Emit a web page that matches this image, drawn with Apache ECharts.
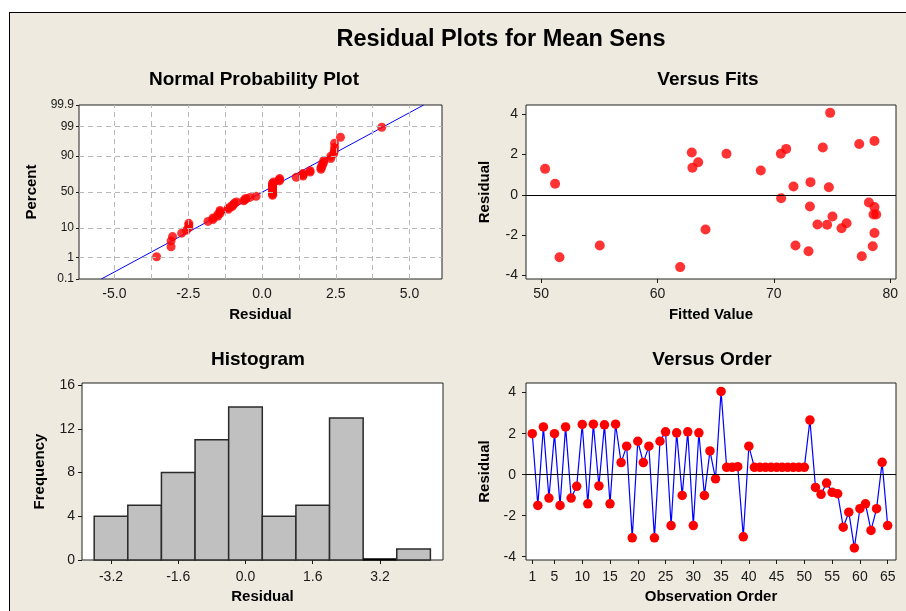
<!DOCTYPE html>
<html><head><meta charset="utf-8">
<script src="https://cdn.jsdelivr.net/npm/echarts@6/dist/echarts.min.js"></script>
<style>
html,body{margin:0;padding:0;background:#fff;}
#wrap{position:relative;width:906px;height:611px;overflow:hidden;background:#fff;}
#frame{position:absolute;left:9px;top:12px;width:1000px;height:1000px;background:#EEEAE0;border-left:1px solid #000;border-top:1px solid #000;}
#chart{position:absolute;left:0;top:0;width:906px;height:611px;}
</style></head><body>
<div id="wrap"><div id="frame"></div><div id="chart"></div></div>
<script>
// ---- data ----
const residualsByOrder = [
  2.00, -1.50, 2.33, -1.14, 2.00, -1.50, 2.33, -1.14, -0.57, 2.45,
  -1.42, 2.46, -0.55, 2.43, -1.42, 2.46, 0.59, 1.39, -3.08, 1.63,
  0.59, 1.39, -3.08, 1.63, 2.09, -2.48, 2.04, -1.01, 2.09, -2.48,
  2.04, -1.01, 1.16, -0.20, 4.06, 0.36, 0.36, 0.39, -3.03, 1.39,
  0.36, 0.36, 0.36, 0.36, 0.36, 0.36, 0.36, 0.36, 0.36, 0.36,
  2.66, -0.62, -0.96, -0.41, -0.86, -0.93, -2.56, -1.83, -3.57, -1.66,
  -1.42, -2.72, -1.66, 0.60, -2.48
];
const fittedValues = [
  50.34, 51.2, 51.58, 55.04, 62.95, 63.0, 63.5, 61.95, 64.13, 65.93,
  68.88, 70.6, 71.06, 70.63, 71.69, 71.86, 73.15, 73.1, 72.98, 73.75,
  74.21, 74.58, 74.84, 74.73, 75.04, 75.82, 76.25, 77.34, 77.56, 78.17,
  78.65, 78.65, 78.57, 78.8, 78.65, 78.5
];
const fittedResiduals = [
  1.29, 0.55, -3.10, -2.52, 2.10, 1.34, 1.62, -3.59, -1.72, 2.04,
  1.21, 2.04, 2.28, -0.17, 0.41, -2.52, 0.63, -0.58, -2.80, -1.47,
  2.35, -1.49, 4.07, 0.38, -1.08, -1.66, -1.41, 2.52, -3.05, -0.38,
  2.67, -0.61, -0.98, -0.98, -1.90, -2.55
];
const histCenters = [-3.2, -2.4, -1.6, -0.8, 0.0, 0.8, 1.6, 2.4, 3.2, 4.0];
const histCounts  = [4, 5, 8, 11, 14, 4, 5, 13, 0, 1];
const histBinWidth = 0.8;

const percentTicks = [0.1, 1, 10, 50, 90, 99, 99.9];
const percentLabels = ['0.1', '1', '10', '50', '90', '99', '99.9'];
const percentGrid = [1, 10, 50, 90, 99];
const npXTicks = [-5, -2.5, 0, 2.5, 5];
const npXGrid = [-5, -3.75, -2.5, -1.25, 0, 1.25, 2.5, 3.75, 5];
const fitsXTicks = [50, 60, 70, 80];
const residTicks = [-4, -2, 0, 2, 4];
const histXTicks = [-3.2, -1.6, 0, 1.6, 3.2];
const histYTicks = [0, 4, 8, 12, 16];
const orderTicks = [1, 5, 10, 15, 20, 25, 30, 35, 40, 45, 50, 55, 60, 65];

// ---- helpers ----
function invNorm(p){
  const a=[-3.969683028665376e+01,2.209460984245205e+02,-2.759285104469687e+02,1.383577518672690e+02,-3.066479806614716e+01,2.506628277459239e+00];
  const b=[-5.447609879822406e+01,1.615858368580409e+02,-1.556989798598866e+02,6.680131188771972e+01,-1.328068155288572e+01];
  const c=[-7.784894002430293e-03,-3.223964580411365e-01,-2.400758277161838e+00,-2.549671010056010e+00,4.374664141464968e+00,2.938163982698783e+00];
  const d=[7.784695709041462e-03,3.224671290700398e-01,2.445134137142996e+00,3.754408661907416e+00];
  const pl=0.02425, ph=1-pl; let q, r;
  if(p<pl){q=Math.sqrt(-2*Math.log(p));return (((((c[0]*q+c[1])*q+c[2])*q+c[3])*q+c[4])*q+c[5])/((((d[0]*q+d[1])*q+d[2])*q+d[3])*q+1);}
  if(p>ph){q=Math.sqrt(-2*Math.log(1-p));return -(((((c[0]*q+c[1])*q+c[2])*q+c[3])*q+c[4])*q+c[5])/((((d[0]*q+d[1])*q+d[2])*q+d[3])*q+1);}
  q=p-0.5; r=q*q;
  return (((((a[0]*r+a[1])*r+a[2])*r+a[3])*r+a[4])*r+a[5])*q/(((((b[0]*r+b[1])*r+b[2])*r+b[3])*r+b[4])*r+1);
}
const n = residualsByOrder.length;
const sorted = residualsByOrder.slice().sort((x,y)=>x-y);
const npPoints = sorted.map((v,i)=>[v, invNorm((i+1-0.3)/(n+0.4))]);
const mean = residualsByOrder.reduce((s,v)=>s+v,0)/n;
const sd = Math.sqrt(residualsByOrder.reduce((s,v)=>s+(v-mean)*(v-mean),0)/(n-1));
const zMin = invNorm(0.001), zMax = invNorm(0.999);
const fitLine = [[mean+sd*zMin, zMin],[mean+sd*zMax, zMax]];
const percentZ = percentTicks.map(p=>invNorm(p/100));

const FF = '"Liberation Sans", Arial, sans-serif';
const INK = '#1a1a1a';
function axisBase(extra){
  return Object.assign({
    type:'value',
    axisLine:{show:false, onZero:false},
    splitLine:{show:false},
    axisTick:{show:true, inside:false, length:4, lineStyle:{color:INK}},
    axisLabel:{color:INK, fontSize:14, fontFamily:FF},
    nameLocation:'middle',
    nameTextStyle:{color:'#000', fontSize:15, fontWeight:'bold', fontFamily:FF}
  }, extra);
}
const gridStyle = {show:true, backgroundColor:'#fff', borderColor:'#222', borderWidth:1, containLabel:false};

const chart = echarts.init(document.getElementById('chart'), null, {renderer:'canvas'});
const titleStyle = {color:'#000', fontWeight:'bold', fontFamily:FF, fontSize:19};
chart.setOption({
  animation:false,
  backgroundColor:'transparent',
  title:[
    {text:'Residual Plots for Mean Sens', left:496, top:23, textAlign:'center', textStyle:Object.assign({}, titleStyle, {fontSize:23.5})},
    {text:'Normal Probability Plot', left:249, top:65, textAlign:'center', textStyle:titleStyle},
    {text:'Versus Fits', left:703, top:65, textAlign:'center', textStyle:titleStyle},
    {text:'Histogram', left:253, top:345, textAlign:'center', textStyle:titleStyle},
    {text:'Versus Order', left:707, top:345, textAlign:'center', textStyle:titleStyle}
  ],
  grid:[
    Object.assign({left:79, top:105, width:363, height:174}, gridStyle),
    Object.assign({left:526, top:105, width:370, height:174}, gridStyle),
    Object.assign({left:82, top:383, width:361, height:177}, gridStyle),
    Object.assign({left:526, top:383, width:370, height:177}, gridStyle)
  ],
  xAxis:[
    axisBase({gridIndex:0, min:-6.2, max:6.1, name:'Residual', nameGap:28,
      axisTick:{show:false},
      axisLabel:{color:INK, fontSize:14, fontFamily:FF, margin:8, customValues:npXTicks, formatter:v=>v.toFixed(1)}}),
    axisBase({gridIndex:1, min:48.7, max:80.5, name:'Fitted Value', nameGap:28,
      axisTick:{show:true, length:4, lineStyle:{color:INK}, customValues:fitsXTicks},
      axisLabel:{color:INK, fontSize:14, fontFamily:FF, margin:8, customValues:fitsXTicks}}),
    axisBase({gridIndex:2, min:-3.89, max:4.7, name:'Residual', nameGap:29,
      axisTick:{show:true, length:4, lineStyle:{color:INK}, customValues:histXTicks},
      axisLabel:{color:INK, fontSize:14, fontFamily:FF, margin:10, customValues:histXTicks, formatter:v=>v.toFixed(1)}}),
    axisBase({gridIndex:3, min:-0.13, max:66.5, name:'Observation Order', nameGap:29,
      axisTick:{show:true, length:4, lineStyle:{color:INK}, customValues:orderTicks},
      axisLabel:{color:INK, fontSize:14, fontFamily:FF, margin:10, customValues:orderTicks}})
  ],
  yAxis:[
    axisBase({gridIndex:0, min:zMin - 1e-6, max:zMax + 1e-6, name:'Percent', nameGap:40,
      axisTick:{show:true, length:3, lineStyle:{color:INK}, customValues:percentZ},
      axisLabel:{color:INK, fontSize:12, fontFamily:FF, margin:5, customValues:percentZ, showMinLabel:true, showMaxLabel:true,
        formatter:v=>{let bi=0,bd=1e9;percentZ.forEach((z,i)=>{const dd=Math.abs(z-v);if(dd<bd){bd=dd;bi=i;}});return percentLabels[bi];}}}),
    axisBase({gridIndex:1, min:-4.18, max:4.46, name:'Residual', nameGap:34,
      axisTick:{show:true, length:4, lineStyle:{color:INK}, customValues:residTicks},
      axisLabel:{color:INK, fontSize:14, fontFamily:FF, margin:8, customValues:residTicks}}),
    axisBase({gridIndex:2, min:0, max:16.2, name:'Frequency', nameGap:35,
      axisTick:{show:true, length:4, lineStyle:{color:INK}, customValues:histYTicks},
      axisLabel:{color:INK, fontSize:14, fontFamily:FF, margin:7, customValues:histYTicks}}),
    axisBase({gridIndex:3, min:-4.16, max:4.47, name:'Residual', nameGap:34,
      axisTick:{show:true, length:4, lineStyle:{color:INK}, customValues:residTicks},
      axisLabel:{color:INK, fontSize:14, fontFamily:FF, margin:10, customValues:residTicks}})
  ],
  series:[
    // probability plot grid lines
    {type:'line', xAxisIndex:0, yAxisIndex:0, data:[], silent:true, z:1,
      markLine:{silent:true, symbol:['none','none'], label:{show:false}, animation:false,
        lineStyle:{color:'#b8b8b8', type:[5,4], width:1},
        emphasis:{disabled:true},
        data:[...npXGrid.map(v=>({xAxis:v})), ...percentGrid.map(p=>({yAxis:invNorm(p/100)}))]}},
    {type:'line', xAxisIndex:0, yAxisIndex:0, data:fitLine, showSymbol:false, symbol:'none', silent:true, z:2,
      lineStyle:{color:'#0000ff', width:1}},
    {type:'scatter', xAxisIndex:0, yAxisIndex:0, data:npPoints, symbol:'circle', symbolSize:9, z:3,
      itemStyle:{color:'#ff0000'}},
    // versus fits
    {type:'scatter', xAxisIndex:1, yAxisIndex:1, data:fittedValues.map((f,i)=>[f, fittedResiduals[i]]),
      symbol:'circle', symbolSize:10, z:3, itemStyle:{color:'#ff0000'},
      markLine:{silent:true, symbol:['none','none'], label:{show:false}, animation:false,
        lineStyle:{color:'#000', type:'solid', width:1}, emphasis:{disabled:true}, data:[{yAxis:0}]}},
    // histogram
    {type:'custom', xAxisIndex:2, yAxisIndex:2, data:histCenters.map((c,i)=>[c, histCounts[i]]),
      encode:{x:0, y:1}, silent:true,
      renderItem:(params, api)=>{
        const c = api.value(0), cnt = api.value(1);
        const p0 = api.coord([c - histBinWidth/2, cnt]);
        const p1 = api.coord([c + histBinWidth/2, 0]);
        const h = p1[1] - p0[1];
        if (h < 1) {
          return {type:'line', shape:{x1:p0[0], y1:p1[1]-0.5, x2:p1[0], y2:p1[1]-0.5},
            style:{stroke:'#000', lineWidth:2.5}};
        }
        return {type:'rect', shape:{x:p0[0], y:p0[1], width:p1[0]-p0[0], height:h},
          style:{fill:'#c0c0c0', stroke:'#2a2a2a', lineWidth:1.5}};
      }},
    // versus order
    {type:'line', xAxisIndex:3, yAxisIndex:3, data:residualsByOrder.map((r,i)=>[i+1, r]),
      symbol:'circle', symbolSize:9.5, showAllSymbol:true, z:3,
      lineStyle:{color:'#0000ff', width:1.2}, itemStyle:{color:'#ff0000'},
      markLine:{silent:true, symbol:['none','none'], label:{show:false}, animation:false,
        lineStyle:{color:'#000', type:'solid', width:1}, emphasis:{disabled:true}, data:[{yAxis:0}]}}
  ]
});
</script>
</body></html>
